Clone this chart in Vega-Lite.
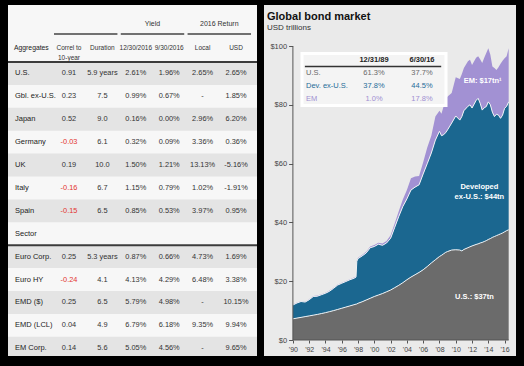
{
"$schema": "https://vega.github.io/schema/vega-lite/v6.json",
"background": "#000000",
"padding": {"left": 7, "top": 5, "right": 9, "bottom": 10},
"spacing": 7,
"bounds": "flush",
"config": {"view": {"stroke": null}, "font": "Liberation Sans, Arial, sans-serif", "text": {"font": "Liberation Sans, Arial, sans-serif"}, "axis": {"labelOverlap": false}, "axisX": {"labelOverlap": false}},
"datasets": {
"table": [
{"name": "U.S.", "correl": "0.91", "duration": "5.9 years", "y1230": "2.61%", "y0930": "1.96%", "local": "2.65%", "usd": "2.65%"},
{"name": "Gbl. ex-U.S.", "correl": "0.23", "duration": "7.5", "y1230": "0.99%", "y0930": "0.67%", "local": "-", "usd": "1.85%"},
{"name": "Japan", "correl": "0.52", "duration": "9.0", "y1230": "0.16%", "y0930": "0.00%", "local": "2.96%", "usd": "6.20%"},
{"name": "Germany", "correl": "-0.03", "duration": "6.1", "y1230": "0.32%", "y0930": "0.09%", "local": "3.36%", "usd": "0.36%"},
{"name": "UK", "correl": "0.19", "duration": "10.0", "y1230": "1.50%", "y0930": "1.21%", "local": "13.13%", "usd": "-5.16%"},
{"name": "Italy", "correl": "-0.16", "duration": "6.7", "y1230": "1.15%", "y0930": "0.79%", "local": "1.02%", "usd": "-1.91%"},
{"name": "Spain", "correl": "-0.15", "duration": "6.5", "y1230": "0.85%", "y0930": "0.53%", "local": "3.97%", "usd": "0.95%"},
{"name": "Sector"},
{"name": "Euro Corp.", "correl": "0.25", "duration": "5.3 years", "y1230": "0.87%", "y0930": "0.66%", "local": "4.73%", "usd": "1.69%"},
{"name": "Euro HY", "correl": "-0.24", "duration": "4.1", "y1230": "4.13%", "y0930": "4.29%", "local": "6.48%", "usd": "3.38%"},
{"name": "EMD ($)", "correl": "0.25", "duration": "6.5", "y1230": "5.79%", "y0930": "4.98%", "local": "-", "usd": "10.15%"},
{"name": "EMD (LCL)", "correl": "0.04", "duration": "4.9", "y1230": "6.79%", "y0930": "6.18%", "local": "9.35%", "usd": "9.94%"},
{"name": "EM Corp.", "correl": "0.14", "duration": "5.6", "y1230": "5.05%", "y0930": "4.56%", "local": "-", "usd": "9.65%"}
],
"bond": [
{"t": 1990.0, "us": 7.2, "dev": 4.7, "em": 0.15},
{"t": 1990.5, "us": 7.45, "dev": 5.15, "em": 0.15},
{"t": 1991.0, "us": 7.7, "dev": 5.4, "em": 0.15},
{"t": 1991.5, "us": 7.95, "dev": 4.95, "em": 0.15},
{"t": 1992.0, "us": 8.2, "dev": 5.5, "em": 0.15},
{"t": 1992.5, "us": 8.45, "dev": 6.35, "em": 0.15},
{"t": 1993.0, "us": 8.7, "dev": 6.2, "em": 0.2},
{"t": 1993.5, "us": 9.0, "dev": 6.4, "em": 0.2},
{"t": 1994.0, "us": 9.3, "dev": 6.6, "em": 0.2},
{"t": 1994.5, "us": 9.65, "dev": 6.95, "em": 0.2},
{"t": 1995.0, "us": 10.0, "dev": 7.6, "em": 0.2},
{"t": 1995.5, "us": 10.4, "dev": 8.3, "em": 0.2},
{"t": 1996.0, "us": 10.8, "dev": 8.5, "em": 0.2},
{"t": 1996.5, "us": 11.2, "dev": 8.7, "em": 0.2},
{"t": 1997.0, "us": 11.6, "dev": 8.9, "em": 0.2},
{"t": 1997.5, "us": 12.0, "dev": 9.0, "em": 0.3},
{"t": 1997.75, "us": 12.2, "dev": 9.2, "em": 0.3},
{"t": 1997.85, "us": 12.25, "dev": 14.55, "em": 0.3},
{"t": 1998.0, "us": 12.5, "dev": 15.2, "em": 0.3},
{"t": 1998.5, "us": 13.0, "dev": 15.6, "em": 0.3},
{"t": 1999.0, "us": 13.6, "dev": 16.0, "em": 0.4},
{"t": 1999.5, "us": 14.2, "dev": 17.2, "em": 0.4},
{"t": 2000.0, "us": 14.8, "dev": 17.0, "em": 0.5},
{"t": 2000.5, "us": 15.3, "dev": 17.3, "em": 0.5},
{"t": 2001.0, "us": 15.8, "dev": 16.4, "em": 0.6},
{"t": 2001.5, "us": 16.4, "dev": 16.6, "em": 0.7},
{"t": 2002.0, "us": 17.0, "dev": 17.6, "em": 1.0},
{"t": 2002.5, "us": 17.8, "dev": 20.5, "em": 1.3},
{"t": 2003.0, "us": 18.6, "dev": 23.4, "em": 1.8},
{"t": 2003.5, "us": 19.5, "dev": 25.9, "em": 2.4},
{"t": 2004.0, "us": 20.5, "dev": 27.5, "em": 3.0},
{"t": 2004.5, "us": 21.4, "dev": 29.6, "em": 4.0},
{"t": 2005.0, "us": 22.2, "dev": 29.8, "em": 3.6},
{"t": 2005.5, "us": 23.0, "dev": 29.8, "em": 3.0},
{"t": 2006.0, "us": 23.9, "dev": 32.6, "em": 4.0},
{"t": 2006.5, "us": 25.0, "dev": 35.0, "em": 5.5},
{"t": 2007.0, "us": 26.2, "dev": 37.4, "em": 5.9},
{"t": 2007.5, "us": 27.3, "dev": 40.7, "em": 8.0},
{"t": 2008.0, "us": 28.4, "dev": 42.6, "em": 7.0},
{"t": 2008.25, "us": 28.8, "dev": 40.7, "em": 7.5},
{"t": 2008.5, "us": 29.3, "dev": 40.5, "em": 9.6},
{"t": 2008.75, "us": 29.8, "dev": 40.7, "em": 11.5},
{"t": 2009.0, "us": 30.1, "dev": 41.4, "em": 11.3},
{"t": 2009.5, "us": 30.6, "dev": 43.2, "em": 10.2},
{"t": 2010.0, "us": 30.7, "dev": 45.5, "em": 13.2},
{"t": 2010.5, "us": 30.6, "dev": 44.2, "em": 14.0},
{"t": 2010.75, "us": 30.3, "dev": 45.7, "em": 14.5},
{"t": 2011.0, "us": 30.8, "dev": 47.2, "em": 14.5},
{"t": 2011.5, "us": 31.4, "dev": 48.1, "em": 15.3},
{"t": 2011.75, "us": 31.7, "dev": 48.3, "em": 15.3},
{"t": 2012.0, "us": 32.0, "dev": 46.9, "em": 14.6},
{"t": 2012.5, "us": 32.5, "dev": 49.0, "em": 14.5},
{"t": 2012.75, "us": 32.7, "dev": 49.5, "em": 14.3},
{"t": 2013.0, "us": 33.0, "dev": 47.5, "em": 15.0},
{"t": 2013.25, "us": 33.2, "dev": 45.0, "em": 16.0},
{"t": 2013.5, "us": 33.5, "dev": 45.5, "em": 17.0},
{"t": 2013.75, "us": 33.8, "dev": 45.6, "em": 18.2},
{"t": 2014.0, "us": 34.2, "dev": 46.8, "em": 18.2},
{"t": 2014.25, "us": 34.5, "dev": 45.5, "em": 17.0},
{"t": 2014.5, "us": 34.9, "dev": 42.6, "em": 15.5},
{"t": 2014.75, "us": 35.2, "dev": 40.8, "em": 16.5},
{"t": 2015.0, "us": 35.5, "dev": 41.3, "em": 15.0},
{"t": 2015.25, "us": 35.8, "dev": 40.7, "em": 16.3},
{"t": 2015.5, "us": 36.1, "dev": 39.3, "em": 18.6},
{"t": 2015.75, "us": 36.4, "dev": 40.1, "em": 18.5},
{"t": 2016.0, "us": 36.8, "dev": 42.0, "em": 17.0},
{"t": 2016.25, "us": 37.2, "dev": 42.3, "em": 17.0},
{"t": 2016.5, "us": 37.5, "dev": 43.5, "em": 18.2}
],
"inset": [
{"label": "U.S.", "d89": "61.3%", "d16": "37.7%"},
{"label": "Dev. ex-U.S.", "d89": "37.8%", "d16": "44.5%"},
{"label": "EM", "d89": "1.0%", "d16": "17.8%"}
]
},
"hconcat": [
{
"width": 249, "height": 351,
"view": {"fill": "#f7f7f7", "stroke": null},
"layer": [
{"data": {"name": "table"},
 "transform": [{"window": [{"op": "row_number", "as": "rn"}]}, {"filter": "datum.rn % 2 == 1"}],
 "mark": {"type": "rect", "color": "#e4e4e4", "clip": true},
 "encoding": {"y": {"field": "name", "type": "nominal", "axis": null, "scale": {"type": "band", "domain": ["h1","h2","U.S.","Gbl. ex-U.S.","Japan","Germany","UK","Italy","Spain","Sector","Euro Corp.","Euro HY","EMD ($)","EMD (LCL)","EM Corp."], "range": [11.2, 354.7], "paddingInner": 0, "paddingOuter": 0}}}},
{"data": {"values": [{"line": "header"}]},
 "mark": {"type": "rule", "color": "#3c3c3c", "strokeWidth": 2},
 "encoding": {"y": {"datum": "U.S.", "type": "nominal", "bandPosition": 0, "axis": null, "scale": {"type": "band", "domain": ["h1","h2","U.S.","Gbl. ex-U.S.","Japan","Germany","UK","Italy","Spain","Sector","Euro Corp.","Euro HY","EMD ($)","EMD (LCL)","EM Corp."], "range": [11.2, 354.7], "paddingInner": 0, "paddingOuter": 0}}}},
{"data": {"values": [{"line": "sector"}]},
 "mark": {"type": "rule", "color": "#3c3c3c", "strokeWidth": 2},
 "encoding": {"y": {"datum": "Sector", "type": "nominal", "bandPosition": 1, "axis": null, "scale": {"type": "band", "domain": ["h1","h2","U.S.","Gbl. ex-U.S.","Japan","Germany","UK","Italy","Spain","Sector","Euro Corp.","Euro HY","EMD ($)","EMD (LCL)","EM Corp."], "range": [11.2, 354.7], "paddingInner": 0, "paddingOuter": 0}}}},
{"data": {"values": [{"c1": "correl", "c2": "duration"}, {"c1": "y1230", "c2": "y0930"}, {"c1": "local", "c2": "usd"}]},
 "mark": {"type": "rule", "color": "#444444", "strokeWidth": 1.5},
 "encoding": {
  "x": {"field": "c1", "type": "nominal", "bandPosition": 0, "axis": null, "scale": {"type": "band", "domain": ["name","correl","duration","y1230","y0930","local","usd"], "range": [10.9, 244.7], "paddingInner": 0.1, "paddingOuter": 0.05}},
  "x2": {"field": "c2", "bandPosition": 1},
  "y": {"datum": "h1", "type": "nominal", "bandPosition": 0.78, "axis": null, "scale": {"type": "band", "domain": ["h1","h2","U.S.","Gbl. ex-U.S.","Japan","Germany","UK","Italy","Spain","Sector","Euro Corp.","Euro HY","EMD ($)","EMD (LCL)","EM Corp."], "range": [11.2, 354.7], "paddingInner": 0, "paddingOuter": 0}}}},
{"data": {"values": [{"col": "y1230", "h": "Yield"}, {"col": "local", "h": "2016 Return"}]},
 "mark": {"type": "text", "dx": 16.7, "dy": -4, "fontSize": 7, "color": "#333333"},
 "encoding": {
  "x": {"field": "col", "type": "nominal", "axis": null, "scale": {"type": "band", "domain": ["name","correl","duration","y1230","y0930","local","usd"], "range": [10.9, 244.7], "paddingInner": 0.1, "paddingOuter": 0.05}},
  "y": {"datum": "h1", "type": "nominal", "axis": null, "scale": {"type": "band", "domain": ["h1","h2","U.S.","Gbl. ex-U.S.","Japan","Germany","UK","Italy","Spain","Sector","Euro Corp.","Euro HY","EMD ($)","EMD (LCL)","EM Corp."], "range": [11.2, 354.7], "paddingInner": 0, "paddingOuter": 0}},
  "text": {"field": "h"}}},
{"data": {"values": [{"col": "correl", "h": ["Correl to", "10-year"]}, {"col": "duration", "h": "Duration"}, {"col": "y1230", "h": "12/30/2016"}, {"col": "y0930", "h": "9/30/2016"}, {"col": "local", "h": "Local"}, {"col": "usd", "h": "USD"}]},
 "mark": {"type": "text", "dy": -2.5, "fontSize": 6.5, "lineHeight": 10, "color": "#333333"},
 "encoding": {
  "x": {"field": "col", "type": "nominal", "axis": null, "scale": {"type": "band", "domain": ["name","correl","duration","y1230","y0930","local","usd"], "range": [10.9, 244.7], "paddingInner": 0.1, "paddingOuter": 0.05}},
  "y": {"datum": "h2", "type": "nominal", "axis": null, "scale": {"type": "band", "domain": ["h1","h2","U.S.","Gbl. ex-U.S.","Japan","Germany","UK","Italy","Spain","Sector","Euro Corp.","Euro HY","EMD ($)","EMD (LCL)","EM Corp."], "range": [11.2, 354.7], "paddingInner": 0, "paddingOuter": 0}},
  "text": {"field": "h"}}},
{"data": {"values": [{"h": "Aggregates"}]},
 "mark": {"type": "text", "align": "left", "dx": -21.6, "dy": -2.5, "fontSize": 6.8, "color": "#222222"},
 "encoding": {
  "x": {"datum": "name", "type": "nominal", "axis": null, "scale": {"type": "band", "domain": ["name","correl","duration","y1230","y0930","local","usd"], "range": [10.9, 244.7], "paddingInner": 0.1, "paddingOuter": 0.05}},
  "y": {"datum": "h2", "type": "nominal", "axis": null, "scale": {"type": "band", "domain": ["h1","h2","U.S.","Gbl. ex-U.S.","Japan","Germany","UK","Italy","Spain","Sector","Euro Corp.","Euro HY","EMD ($)","EMD (LCL)","EM Corp."], "range": [11.2, 354.7], "paddingInner": 0, "paddingOuter": 0}},
  "text": {"field": "h"}}},
{"data": {"name": "table"},
 "mark": {"type": "text", "align": "left", "dx": -20.6, "fontSize": 7.5, "color": "#222222"},
 "encoding": {
  "x": {"datum": "name", "type": "nominal", "axis": null, "scale": {"type": "band", "domain": ["name","correl","duration","y1230","y0930","local","usd"], "range": [10.9, 244.7], "paddingInner": 0.1, "paddingOuter": 0.05}},
  "y": {"field": "name", "type": "nominal", "axis": null, "scale": {"type": "band", "domain": ["h1","h2","U.S.","Gbl. ex-U.S.","Japan","Germany","UK","Italy","Spain","Sector","Euro Corp.","Euro HY","EMD ($)","EMD (LCL)","EM Corp."], "range": [11.2, 354.7], "paddingInner": 0, "paddingOuter": 0}},
  "text": {"field": "name"}}},
{"data": {"name": "table"},
 "transform": [{"fold": ["correl", "duration", "y1230", "y0930", "local", "usd"], "as": ["key", "value"]}, {"filter": "isValid(datum.value)"}],
 "mark": {"type": "text", "fontSize": 7.4},
 "encoding": {
  "x": {"field": "key", "type": "nominal", "axis": null, "scale": {"type": "band", "domain": ["name","correl","duration","y1230","y0930","local","usd"], "range": [10.9, 244.7], "paddingInner": 0.1, "paddingOuter": 0.05}},
  "y": {"field": "name", "type": "nominal", "axis": null, "scale": {"type": "band", "domain": ["h1","h2","U.S.","Gbl. ex-U.S.","Japan","Germany","UK","Italy","Spain","Sector","Euro Corp.","Euro HY","EMD ($)","EMD (LCL)","EM Corp."], "range": [11.2, 354.7], "paddingInner": 0, "paddingOuter": 0}},
  "text": {"field": "value"},
  "color": {"condition": {"test": "datum.key == 'correl' && indexof(datum.value, '-') == 0", "value": "#e3342f"}, "value": "#333333"}}}
]
},
{
"width": 252, "height": 351,
"view": {"fill": "#eaeaea", "stroke": null},
"title": {"text": "Global bond market", "subtitle": "USD trillions", "anchor": "start", "frame": "group", "offset": -27, "dx": 3, "fontSize": 11, "fontWeight": "bold", "color": "#111111", "subtitleFontSize": 8, "subtitleColor": "#333333", "subtitlePadding": 2, "font": "Liberation Sans, Arial, sans-serif", "subtitleFont": "Liberation Sans, Arial, sans-serif"},
"layer": [
{"layer": [
 {"data": {"name": "bond"},
  "transform": [{"fold": ["us", "dev", "em"], "as": ["series", "v"]}, {"window": [{"op": "row_number", "as": "k"}], "groupby": ["t"]}, {"stack": "v", "groupby": ["t"], "sort": [{"field": "k", "order": "ascending"}], "as": ["v0", "v1"]}],
  "layer": [
   {"mark": {"type": "area", "interpolate": "linear"},
    "encoding": {
     "x": {"field": "t", "type": "quantitative", "scale": {"domain": [1986.45, 2017.4], "nice": false, "zero": false},
       "axis": {"values": [1990,1992,1994,1996,1998,2000,2002,2004,2006,2008,2010,2012,2014,2016], "labelExpr": "\"'\" + substring(toString(datum.value), 2, 4)", "offset": -16, "domain": false, "grid": false, "tickSize": 3, "tickColor": "#555555", "labelColor": "#444444", "labelFontSize": 7, "labelPadding": 2, "labelFlush": false, "labelOverlap": false, "title": null}},
     "y": {"field": "v1", "type": "quantitative", "scale": {"domain": [-5.44, 113.95], "nice": false, "zero": false},
       "axis": {"values": [0,10,20,30,40,50,60,70,80,90,100], "labelExpr": "'$' + datum.value", "offset": -28.6, "domain": false, "grid": false, "tickSize": 4, "tickColor": "#555555", "labelColor": "#444444", "labelFontSize": 7.5, "labelPadding": 2, "labelOverlap": false, "title": null}},
     "y2": {"field": "v0"},
     "color": {"field": "series", "type": "nominal", "legend": null, "scale": {"domain": ["us", "dev", "em"], "range": ["#6b6b6b", "#1b6790", "#a291d3"]}}}},
   {"transform": [{"filter": "datum.series != 'em'"}],
    "mark": {"type": "line", "stroke": "#eef2f5", "strokeWidth": 1},
    "encoding": {
     "x": {"field": "t", "type": "quantitative", "scale": {"domain": [1986.45, 2017.4], "nice": false, "zero": false},
       "axis": {"values": [1990,1992,1994,1996,1998,2000,2002,2004,2006,2008,2010,2012,2014,2016], "labelExpr": "\"'\" + substring(toString(datum.value), 2, 4)", "offset": -16, "domain": false, "grid": false, "tickSize": 3, "tickColor": "#555555", "labelColor": "#444444", "labelFontSize": 7, "labelPadding": 2, "labelFlush": false, "labelOverlap": false, "title": null}},
     "y": {"field": "v1", "type": "quantitative", "scale": {"domain": [-5.44, 113.95], "nice": false, "zero": false}},
     "detail": {"field": "series"}}}
  ]},
 {"data": {"values": [{"axis": "y"}]},
  "mark": {"type": "rule", "color": "#555555", "strokeWidth": 1},
  "encoding": {
   "x": {"datum": 1990, "type": "quantitative", "scale": {"domain": [1986.45, 2017.4], "nice": false, "zero": false},
       "axis": {"values": [1990,1992,1994,1996,1998,2000,2002,2004,2006,2008,2010,2012,2014,2016], "labelExpr": "\"'\" + substring(toString(datum.value), 2, 4)", "offset": -16, "domain": false, "grid": false, "tickSize": 3, "tickColor": "#555555", "labelColor": "#444444", "labelFontSize": 7, "labelPadding": 2, "labelFlush": false, "labelOverlap": false, "title": null}},
   "y": {"datum": 0, "type": "quantitative", "scale": {"domain": [-5.44, 113.95], "nice": false, "zero": false}},
   "y2": {"datum": 100}}},
 {"data": {"values": [{"axis": "x"}]},
  "mark": {"type": "rule", "color": "#555555", "strokeWidth": 1},
  "encoding": {
   "x": {"datum": 1990, "type": "quantitative", "scale": {"domain": [1986.45, 2017.4], "nice": false, "zero": false},
       "axis": {"values": [1990,1992,1994,1996,1998,2000,2002,2004,2006,2008,2010,2012,2014,2016], "labelExpr": "\"'\" + substring(toString(datum.value), 2, 4)", "offset": -16, "domain": false, "grid": false, "tickSize": 3, "tickColor": "#555555", "labelColor": "#444444", "labelFontSize": 7, "labelPadding": 2, "labelFlush": false, "labelOverlap": false, "title": null}},
   "x2": {"datum": 2016.5},
   "y": {"datum": 0, "type": "quantitative", "scale": {"domain": [-5.44, 113.95], "nice": false, "zero": false}}}},
 {"data": {"values": [{"label": "EM: $17tn¹"}]},
  "mark": {"type": "text", "color": "#ffffff", "fontWeight": "bold", "fontSize": 7.5},
  "encoding": {
   "x": {"datum": 2013.3, "type": "quantitative", "scale": {"domain": [1986.45, 2017.4], "nice": false, "zero": false},
       "axis": {"values": [1990,1992,1994,1996,1998,2000,2002,2004,2006,2008,2010,2012,2014,2016], "labelExpr": "\"'\" + substring(toString(datum.value), 2, 4)", "offset": -16, "domain": false, "grid": false, "tickSize": 3, "tickColor": "#555555", "labelColor": "#444444", "labelFontSize": 7, "labelPadding": 2, "labelFlush": false, "labelOverlap": false, "title": null}},
   "y": {"datum": 88.1, "type": "quantitative", "scale": {"domain": [-5.44, 113.95], "nice": false, "zero": false}},
   "text": {"field": "label"}}},
 {"data": {"values": [{"label": ["Developed", "ex-U.S.: $44tn"]}]},
  "mark": {"type": "text", "color": "#ffffff", "fontWeight": "bold", "fontSize": 7.5, "lineHeight": 10},
  "encoding": {
   "x": {"datum": 2012.9, "type": "quantitative", "scale": {"domain": [1986.45, 2017.4], "nice": false, "zero": false},
       "axis": {"values": [1990,1992,1994,1996,1998,2000,2002,2004,2006,2008,2010,2012,2014,2016], "labelExpr": "\"'\" + substring(toString(datum.value), 2, 4)", "offset": -16, "domain": false, "grid": false, "tickSize": 3, "tickColor": "#555555", "labelColor": "#444444", "labelFontSize": 7, "labelPadding": 2, "labelFlush": false, "labelOverlap": false, "title": null}},
   "y": {"datum": 52.1, "type": "quantitative", "scale": {"domain": [-5.44, 113.95], "nice": false, "zero": false}},
   "text": {"field": "label"}}},
 {"data": {"values": [{"label": "U.S.: $37tn"}]},
  "mark": {"type": "text", "color": "#ffffff", "fontWeight": "bold", "fontSize": 7.5},
  "encoding": {
   "x": {"datum": 2012.3, "type": "quantitative", "scale": {"domain": [1986.45, 2017.4], "nice": false, "zero": false},
       "axis": {"values": [1990,1992,1994,1996,1998,2000,2002,2004,2006,2008,2010,2012,2014,2016], "labelExpr": "\"'\" + substring(toString(datum.value), 2, 4)", "offset": -16, "domain": false, "grid": false, "tickSize": 3, "tickColor": "#555555", "labelColor": "#444444", "labelFontSize": 7, "labelPadding": 2, "labelFlush": false, "labelOverlap": false, "title": null}},
   "y": {"datum": 14.6, "type": "quantitative", "scale": {"domain": [-5.44, 113.95], "nice": false, "zero": false}},
   "text": {"field": "label"}}}
]},
{"layer": [
 {"data": {"values": [{"box": "inset"}]},
  "mark": {"type": "rect", "fill": "#f4f4f4", "stroke": "#ffffff", "strokeWidth": 3},
  "encoding": {
   "x": {"datum": "label", "type": "nominal", "bandPosition": 0, "axis": null, "scale": {"type": "band", "domain": ["label", "d89", "d16"], "range": [38, 182], "paddingInner": 0, "paddingOuter": 0}},
   "x2": {"datum": "d16", "bandPosition": 1},
   "y": {"datum": "hdr", "type": "nominal", "bandPosition": 0, "axis": null, "scale": {"type": "band", "domain": ["hdr", "U.S.", "Dev. ex-U.S.", "EM"], "range": [48.5, 100.5], "paddingInner": 0, "paddingOuter": 0}},
   "y2": {"datum": "EM", "bandPosition": 1}}},
 {"data": {"values": [{"line": "inset header"}]},
  "mark": {"type": "rule", "color": "#333333", "strokeWidth": 1.5},
  "encoding": {
   "x": {"datum": "label", "type": "nominal", "bandPosition": 0.06, "axis": null, "scale": {"type": "band", "domain": ["label", "d89", "d16"], "range": [38, 182], "paddingInner": 0, "paddingOuter": 0}},
   "x2": {"datum": "d16", "bandPosition": 0.9},
   "y": {"datum": "hdr", "type": "nominal", "bandPosition": 1, "axis": null, "scale": {"type": "band", "domain": ["hdr", "U.S.", "Dev. ex-U.S.", "EM"], "range": [48.5, 100.5], "paddingInner": 0, "paddingOuter": 0}}}},
 {"data": {"values": [{"col": "d89", "h": "12/31/89"}, {"col": "d16", "h": "6/30/16"}]},
  "mark": {"type": "text", "fontSize": 7.5, "fontWeight": "bold", "color": "#222222"},
  "encoding": {
   "x": {"field": "col", "type": "nominal", "axis": null, "scale": {"type": "band", "domain": ["label", "d89", "d16"], "range": [38, 182], "paddingInner": 0, "paddingOuter": 0}},
   "y": {"datum": "hdr", "type": "nominal", "axis": null, "scale": {"type": "band", "domain": ["hdr", "U.S.", "Dev. ex-U.S.", "EM"], "range": [48.5, 100.5], "paddingInner": 0, "paddingOuter": 0}},
   "text": {"field": "h"}}},
 {"data": {"name": "inset"},
  "mark": {"type": "text", "fontSize": 7.5, "align": "left", "dx": -20},
  "encoding": {
   "x": {"datum": "label", "type": "nominal", "axis": null, "scale": {"type": "band", "domain": ["label", "d89", "d16"], "range": [38, 182], "paddingInner": 0, "paddingOuter": 0}},
   "y": {"field": "label", "type": "nominal", "axis": null, "scale": {"type": "band", "domain": ["hdr", "U.S.", "Dev. ex-U.S.", "EM"], "range": [48.5, 100.5], "paddingInner": 0, "paddingOuter": 0}},
   "color": {"field": "label", "type": "nominal", "legend": null, "scale": {"domain": ["U.S.", "Dev. ex-U.S.", "EM"], "range": ["#6a6a6a", "#1f6c98", "#9f8fd2"]}},
   "text": {"field": "label"}}},
 {"data": {"name": "inset"},
  "transform": [{"fold": ["d89", "d16"], "as": ["col", "val"]}],
  "mark": {"type": "text", "fontSize": 7.5},
  "encoding": {
   "x": {"field": "col", "type": "nominal", "axis": null, "scale": {"type": "band", "domain": ["label", "d89", "d16"], "range": [38, 182], "paddingInner": 0, "paddingOuter": 0}},
   "y": {"field": "label", "type": "nominal", "axis": null, "scale": {"type": "band", "domain": ["hdr", "U.S.", "Dev. ex-U.S.", "EM"], "range": [48.5, 100.5], "paddingInner": 0, "paddingOuter": 0}},
   "color": {"field": "label", "type": "nominal", "legend": null, "scale": {"domain": ["U.S.", "Dev. ex-U.S.", "EM"], "range": ["#6a6a6a", "#1f6c98", "#9f8fd2"]}},
   "text": {"field": "val"}}}
]}
],
"resolve": {"scale": {"x": "independent", "y": "independent", "color": "independent"}}
}
]
}
